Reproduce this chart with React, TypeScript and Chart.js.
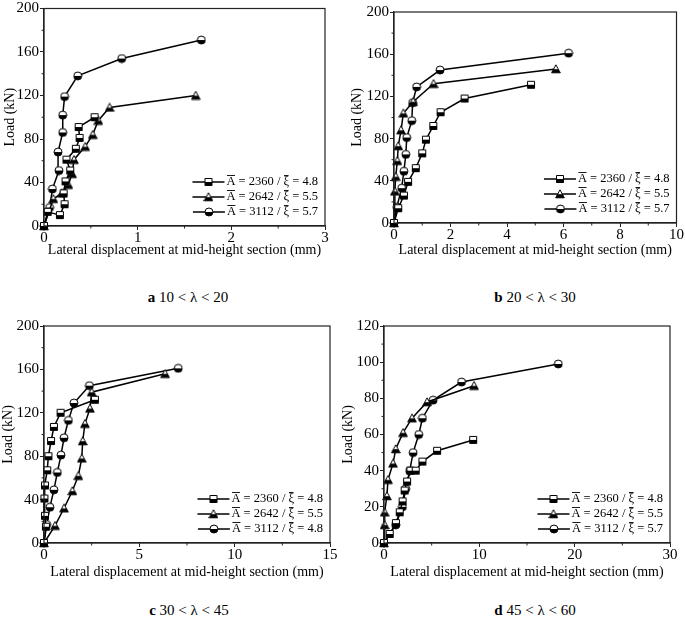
import React, { useEffect, useRef } from 'react';
import { Chart, registerables } from 'chart.js';
Chart.register(...registerables);

type P = [number, number];

// ---------- data ----------
const legendA = ['2360', '2642', '3112'];
const legendXiA = ['4.8', '5.5', '5.7'];
const legendXiB = ['4.8', '5.5', '5.7'];
const legendXiC = ['4.8', '5.5', '4.8'];
const legendXiD = ['4.8', '5.5', '5.7'];

const captionLetters = ['a', 'b', 'c', 'd'];
const captionTexts = ['10 < λ < 20', '20 < λ < 30', '30 < λ < 45', '45 < λ < 60'];

const xTitle = 'Lateral displacement at mid-height section (mm)';
const yTitle = 'Load (kN)';

const aSquare: P[] = [[0, 0], [0.04, 13], [0.17, 10], [0.22, 20], [0.21, 30], [0.23, 41], [0.28, 51], [0.24, 61], [0.34, 71], [0.38, 81], [0.37, 91], [0.54, 100]];
const aTriangle: P[] = [[0, 0], [0.1, 25], [0.19, 30], [0.26, 38], [0.3, 48], [0.32, 61], [0.44, 73], [0.52, 84], [0.58, 97], [0.7, 109], [1.62, 120]];
const aCircle: P[] = [[0, 0], [0.06, 17], [0.09, 34], [0.16, 51], [0.15, 68], [0.2, 86], [0.2, 102], [0.22, 119], [0.36, 138], [0.83, 154], [1.68, 171]];

const bSquare: P[] = [[0, 0], [0.15, 14], [0.35, 26], [0.5, 39], [0.77, 52], [1.0, 66], [1.13, 79], [1.39, 92], [1.65, 105], [2.5, 118], [4.85, 131]];
const bTriangle: P[] = [[0, 0], [0.03, 30], [0.06, 44], [0.12, 59], [0.15, 73], [0.25, 88], [0.33, 104], [0.68, 115], [1.4, 132], [5.73, 146]];
const bCircle: P[] = [[0, 0], [0.1, 15], [0.27, 33], [0.35, 49], [0.42, 65], [0.45, 81], [0.63, 97], [0.66, 114], [0.8, 129], [1.63, 145], [6.18, 161]];

const cSquare: P[] = [[0, 0], [0.1, 15], [0.05, 25], [0.02, 41], [0.05, 53], [0.17, 67], [0.23, 80], [0.37, 94], [0.52, 107], [0.87, 120], [2.67, 132]];
const cTriangle: P[] = [[0, 0], [0.58, 16], [1.05, 32], [1.49, 48], [1.8, 62], [1.98, 78], [2.03, 94], [2.15, 110], [2.41, 124], [2.5, 139], [6.35, 156]];
const cCircle: P[] = [[0, 0], [0.14, 17], [0.31, 33], [0.52, 49], [0.7, 65], [0.89, 81], [1.05, 97], [1.28, 113], [1.57, 129], [2.38, 145], [7.04, 161]];

const dSquare: P[] = [[0, 0], [0.6, 5], [1.25, 11], [1.65, 17], [1.95, 23], [2.17, 29], [2.42, 34], [2.77, 40], [3.33, 40], [4.03, 45], [5.57, 51], [9.35, 57]];
const dTriangle: P[] = [[0, 0], [0.07, 10], [0.07, 17], [0.3, 26], [0.42, 35], [0.95, 44], [1.23, 52], [2.0, 61], [2.94, 69], [4.52, 78], [9.45, 87]];
const dCircle: P[] = [[0, 0], [1.23, 10], [1.93, 20], [2.28, 30], [2.7, 40], [3.05, 50], [3.65, 60], [4.03, 69], [5.15, 79], [8.13, 89], [18.28, 99]];

const xMaxes = [3, 10, 15, 30];
const xSteps = [1, 2, 5, 10];
const yMaxes = [200, 200, 200, 120];
const ySteps = [40, 40, 40, 20];

// ---------- styling ----------
const FONT = "'Liberation Serif', 'Times New Roman', serif";
const AXIS = '#222';

type Shape = 'square' | 'triangle' | 'circle';
function makeMarker(shape: Shape): HTMLCanvasElement {
  const s = 10;
  const c = document.createElement('canvas');
  c.width = s;
  c.height = s;
  const ctx = c.getContext('2d')!;
  const path = new Path2D();
  if (shape === 'square') path.rect(1.5, 1.5, 7, 7);
  else if (shape === 'triangle') {
    path.moveTo(5, 0.8);
    path.lineTo(9.3, 8.8);
    path.lineTo(0.7, 8.8);
    path.closePath();
  } else path.arc(5, 5, 4, 0, Math.PI * 2);
  ctx.save();
  ctx.clip(path);
  ctx.fillStyle = '#fff';
  ctx.fillRect(0, 0, s, s);
  ctx.fillStyle = '#000';
  ctx.fillRect(0, shape === 'triangle' ? 5.2 : 5, s, s);
  ctx.restore();
  ctx.lineWidth = 1;
  ctx.strokeStyle = '#000';
  ctx.stroke(path);
  return c;
}

interface PanelGeom {
  left: number; top: number; w: number; h: number;
  yw: number; xh: number; padTop: number; padRight: number; yTitlePad: number;
}

const geoms: PanelGeom[] = [
  { left: 0, top: 0, w: 340, h: 260, yw: 44, xh: 34, padTop: 8, padRight: 15, yTitlePad: 2 },
  { left: 340, top: 0, w: 345, h: 260, yw: 54, xh: 37, padTop: 12, padRight: 8, yTitlePad: 9 },
  { left: 0, top: 310, w: 340, h: 272, yw: 44, xh: 39, padTop: 16, padRight: 10, yTitlePad: 0 },
  { left: 340, top: 310, w: 345, h: 272, yw: 44, xh: 39, padTop: 16, padRight: 15, yTitlePad: 0 },
];

const panelSeries: P[][][] = [
  [aSquare, aTriangle, aCircle],
  [bSquare, bTriangle, bCircle],
  [cSquare, cTriangle, cCircle],
  [dSquare, dTriangle, dCircle],
];
const panelXi = [legendXiA, legendXiB, legendXiC, legendXiD];

function Panel({ idx }: { idx: number }) {
  const ref = useRef<HTMLCanvasElement>(null);
  const g = geoms[idx];
  useEffect(() => {
    if (!ref.current) return;
    const markers = [makeMarker('square'), makeMarker('triangle'), makeMarker('circle')];
    const xi = panelXi[idx];
    const xMax = xMaxes[idx];
    const xStep = xSteps[idx];
    const yMax = yMaxes[idx];
    const yStep = ySteps[idx];

    const framePlugin = {
      id: 'frame' + idx,
      afterDraw(chart: any) {
        const { ctx, chartArea: ca, scales } = chart;
        ctx.save();
        // frame
        ctx.strokeStyle = AXIS;
        ctx.lineWidth = 1.2;
        ctx.strokeRect(ca.left, ca.top, ca.right - ca.left, ca.bottom - ca.top);
        // minor ticks
        ctx.lineWidth = 1;
        for (let v = xStep / 2; v < xMax; v += xStep) {
          const px = scales.x.getPixelForValue(v);
          ctx.beginPath();
          ctx.moveTo(px, ca.bottom);
          ctx.lineTo(px, ca.bottom + 2.5);
          ctx.stroke();
        }
        for (let v = yStep / 2; v < yMax; v += yStep) {
          const py = scales.y.getPixelForValue(v);
          ctx.beginPath();
          ctx.moveTo(ca.left, py);
          ctx.lineTo(ca.left - 2.5, py);
          ctx.stroke();
        }
        // legend
        ctx.font = `12.5px ${FONT}`;
        ctx.fillStyle = '#000';
        ctx.textBaseline = 'middle';
        for (let i = 0; i < 3; i++) {
          const y = ca.bottom - 14 - (2 - i) * 15;
          const parts = ['A', ` = ${legendA[i]} / `, 'ξ', ` = ${xi[i]}`];
          const widths = parts.map((p) => ctx.measureText(p).width);
          const total = widths.reduce((s, w) => s + w, 0);
          let x = ca.right - 7 - total;
          const lx2 = x - 2;
          const lx1 = lx2 - 32;
          ctx.strokeStyle = '#000';
          ctx.lineWidth = 1.5;
          ctx.beginPath();
          ctx.moveTo(lx1, y);
          ctx.lineTo(lx2, y);
          ctx.stroke();
          const m = markers[i];
          ctx.drawImage(m, (lx1 + lx2) / 2 - m.width / 2, y - m.height / 2);
          ctx.lineWidth = 0.9;
          parts.forEach((p, k) => {
            ctx.fillText(p, x, y);
            if (k === 0 || k === 2) {
              ctx.beginPath();
              ctx.moveTo(x + 0.5, y - 6.5);
              ctx.lineTo(x + widths[k] - 0.5, y - 6.5);
              ctx.stroke();
            }
            x += widths[k];
          });
        }
        ctx.restore();
      },
    };

    const chart = new Chart(ref.current, {
      type: 'line',
      data: {
        datasets: panelSeries[idx].map((pts, i) => ({
          data: pts.map(([x, y]) => ({ x, y })),
          borderColor: '#000',
          backgroundColor: '#000',
          borderWidth: 1.5,
          pointStyle: markers[i] as any,
          pointRadius: 5,
          pointHoverRadius: 5,
          tension: 0,
          fill: false,
          clip: false as any,
        })),
      },
      options: {
        animation: false,
        responsive: false,
        events: [],
        layout: { padding: { left: 0, right: g.padRight, top: g.padTop, bottom: 0 } },
        plugins: { legend: { display: false }, tooltip: { enabled: false } },
        scales: {
          x: {
            type: 'linear',
            min: 0,
            max: xMax,
            ticks: { stepSize: xStep, color: '#000', padding: 1, maxRotation: 0, autoSkip: false, font: { family: FONT, size: 15, lineHeight: 1 } },
            grid: { drawOnChartArea: false, tickLength: 4, color: AXIS, lineWidth: 1 },
            border: { color: AXIS, width: 1.2 },
            title: { display: true, text: xTitle, color: '#000', font: { family: FONT, size: 14 }, padding: { top: 0, bottom: 1 } },
            afterFit: (s: any) => { s.height = g.xh; },
          },
          y: {
            type: 'linear',
            min: 0,
            max: yMax,
            ticks: { stepSize: yStep, color: '#000', padding: 1, autoSkip: false, font: { family: FONT, size: 15, lineHeight: 1 } },
            grid: { drawOnChartArea: false, tickLength: 4, color: AXIS, lineWidth: 1 },
            border: { color: AXIS, width: 1.2 },
            title: { display: true, text: yTitle, color: '#000', font: { family: FONT, size: 14 }, padding: { top: g.yTitlePad, bottom: 0 } },
            afterFit: (s: any) => { s.width = g.yw; },
          },
        },
      } as any,
      plugins: [framePlugin],
    });
    return () => chart.destroy();
  }, [idx]);

  return (
    <canvas
      ref={ref}
      width={g.w}
      height={g.h}
      style={{ position: 'absolute', left: g.left, top: g.top, width: g.w, height: g.h }}
    />
  );
}

const captionPos = [
  { cx: 188, cy: 297 },
  { cx: 535, cy: 297 },
  { cx: 189, cy: 610 },
  { cx: 535, cy: 610 },
];

export default function App() {
  return (
    <div style={{ position: 'absolute', left: 0, top: 0, width: 685, height: 624, background: '#fff', overflow: 'hidden' }}>
      {[0, 1, 2, 3].map((i) => (
        <Panel key={i} idx={i} />
      ))}
      {captionPos.map((p, i) => (
        <div
          key={'c' + i}
          style={{
            position: 'absolute',
            left: p.cx - 100,
            top: p.cy - 9,
            width: 200,
            lineHeight: '18px',
            textAlign: 'center',
            fontFamily: FONT,
            fontSize: 15,
            color: '#000',
            whiteSpace: 'nowrap',
          }}
        >
          <b>{captionLetters[i]}</b> {captionTexts[i]}
        </div>
      ))}
    </div>
  );
}
